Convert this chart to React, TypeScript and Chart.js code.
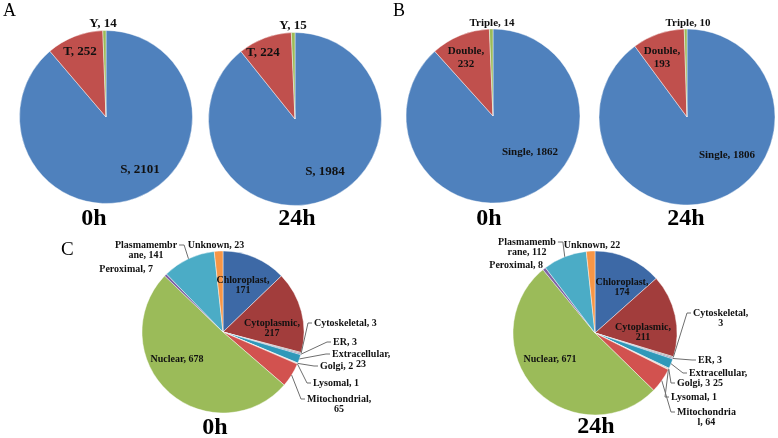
import React, { useEffect, useRef } from "react";
import { Chart, registerables } from "chart.js";

Chart.register(...registerables);

// ---------------- DATA ----------------
const aCategories = ["S", "T", "Y"];
const aValues0h = [2101, 252, 14];
const aValues24h = [1984, 224, 15];

const bCategories = ["Single", "Double", "Triple"];
const bValues0h = [1862, 232, 14];
const bValues24h = [1806, 193, 10];

const cCategories = [
  "Chloroplast",
  "Cytoplasmic",
  "Cytoskeletal",
  "ER",
  "Extracellular",
  "Golgi",
  "Lysomal",
  "Mitochondrial",
  "Nuclear",
  "Peroximal",
  "Plasmamembrane",
  "Unknown",
];
const cValues0h = [171, 217, 3, 3, 23, 2, 1, 65, 678, 7, 141, 23];
const cValues24h = [174, 211, 3, 3, 25, 3, 1, 64, 671, 8, 112, 22];

const timeLabels = ["0h", "24h"];
const panelLetters = ["A", "B", "C"];

// ---------------- STYLE / LAYOUT ----------------
const W = 778;
const H = 438;
const FONT = '"Liberation Serif", "Times New Roman", serif';

const abColors = ["#4f81bd", "#c0504d", "#9bbb59"];
const cColors = [
  "#3d69a6",
  "#a23d3c",
  "#8e8e8e",
  "#6d5a8e",
  "#2f98b9",
  "#c0c0c0",
  "#d99b63",
  "#d2524f",
  "#9bbb59",
  "#8064a2",
  "#4bacc6",
  "#f79646",
];

type LabelStyle = {
  dx: number;
  dy: number;
  align: "center" | "left" | "right";
  brk?: number | "comma";
  leader?: "left" | "right";
};

type PieSpec = {
  categories: string[];
  values: number[];
  colors: string[];
  cx: number;
  cy: number;
  r: number;
  fontSize: number;
  lineHeight: number;
  labels: LabelStyle[];
  title: string;
  titleX: number;
  titleY: number;
  letter?: { text: string; x: number; y: number; size: number };
};

const pies: PieSpec[] = [
  {
    categories: aCategories,
    values: aValues0h,
    colors: abColors,
    cx: 106,
    cy: 117,
    r: 86.5,
    fontSize: 13,
    lineHeight: 13,
    labels: [
      { dx: 34, dy: 53, align: "center" },
      { dx: -26, dy: -65, align: "center" },
      { dx: -3, dy: -93, align: "center" },
    ],
    title: timeLabels[0],
    titleX: 94,
    titleY: 225,
    letter: { text: panelLetters[0], x: 3, y: 16, size: 18 },
  },
  {
    categories: aCategories,
    values: aValues24h,
    colors: abColors,
    cx: 295,
    cy: 119,
    r: 86.5,
    fontSize: 13,
    lineHeight: 13,
    labels: [
      { dx: 30, dy: 53, align: "center" },
      { dx: -32, dy: -66, align: "center" },
      { dx: -2, dy: -93, align: "center" },
    ],
    title: timeLabels[1],
    titleX: 297,
    titleY: 225,
  },
  {
    categories: bCategories,
    values: bValues0h,
    colors: abColors,
    cx: 493,
    cy: 116,
    r: 87,
    fontSize: 11,
    lineHeight: 13,
    labels: [
      { dx: 37, dy: 36, align: "center" },
      { dx: -27, dy: -65, align: "center", brk: "comma" },
      { dx: -1, dy: -93, align: "center" },
    ],
    title: timeLabels[0],
    titleX: 489,
    titleY: 225,
    letter: { text: panelLetters[1], x: 393, y: 16, size: 18 },
  },
  {
    categories: bCategories,
    values: bValues24h,
    colors: abColors,
    cx: 687,
    cy: 117,
    r: 88,
    fontSize: 11,
    lineHeight: 13,
    labels: [
      { dx: 40, dy: 38, align: "center" },
      { dx: -25, dy: -66, align: "center", brk: "comma" },
      { dx: 1, dy: -94, align: "center" },
    ],
    title: timeLabels[1],
    titleX: 686,
    titleY: 225,
  },
  {
    categories: cCategories,
    values: cValues0h,
    colors: cColors,
    cx: 223,
    cy: 332,
    r: 81,
    fontSize: 10,
    lineHeight: 10.5,
    labels: [
      { dx: 20, dy: -52, align: "center", brk: "comma" },
      { dx: 49, dy: -9, align: "center", brk: "comma" },
      { dx: 91, dy: -9, align: "left", leader: "left" },
      { dx: 110, dy: 10, align: "left", leader: "left" },
      { dx: 109, dy: 22, align: "left", brk: "comma", leader: "left" },
      { dx: 97, dy: 34, align: "left", leader: "left" },
      { dx: 90, dy: 51, align: "left", leader: "left" },
      { dx: 84, dy: 67, align: "left", brk: "comma", leader: "left" },
      { dx: -46, dy: 27, align: "center" },
      { dx: -70, dy: -63, align: "right" },
      { dx: -77, dy: -87, align: "center", brk: 11, leader: "right" },
      { dx: -7, dy: -87, align: "center" },
    ],
    title: timeLabels[0],
    titleX: 215,
    titleY: 434,
    letter: { text: panelLetters[2], x: 61, y: 255, size: 19 },
  },
  {
    categories: cCategories,
    values: cValues24h,
    colors: cColors,
    cx: 595,
    cy: 333,
    r: 82,
    fontSize: 10,
    lineHeight: 10.5,
    labels: [
      { dx: 27, dy: -51, align: "center", brk: "comma" },
      { dx: 48, dy: -6, align: "center", brk: "comma" },
      { dx: 98, dy: -20, align: "left", brk: "comma", leader: "left" },
      { dx: 103, dy: 27, align: "left", leader: "left" },
      { dx: 94, dy: 40, align: "left", brk: "comma", leader: "left" },
      { dx: 82, dy: 50, align: "left", leader: "left" },
      { dx: 76, dy: 64, align: "left", leader: "left" },
      { dx: 82, dy: 79, align: "left", brk: 12, leader: "left" },
      { dx: -45, dy: 26, align: "center" },
      { dx: -52, dy: -68, align: "right" },
      { dx: -68, dy: -91, align: "center", brk: 10, leader: "right" },
      { dx: -3, dy: -88, align: "center" },
    ],
    title: timeLabels[1],
    titleX: 596,
    titleY: 433,
  },
];

function splitText(text: string, brk?: number | "comma"): string[] {
  if (brk === undefined) return [text];
  if (brk === "comma") {
    const i = text.indexOf(", ");
    return [text.slice(0, i + 1), text.slice(i + 2)];
  }
  return [text.slice(0, brk), text.slice(brk)];
}

function makePlugin(spec: PieSpec) {
  return {
    id: "pieLabels",
    afterDraw(chart: any) {
      const ctx: CanvasRenderingContext2D = chart.ctx;
      const meta = chart.getDatasetMeta(0);
      ctx.save();
      ctx.fillStyle = "#111";
      ctx.textBaseline = "middle";
      ctx.font = `bold ${spec.fontSize}px ${FONT}`;
      meta.data.forEach((arc: any, i: number) => {
        const st = spec.labels[i];
        if (!st) return;
        const p = arc.getProps(["x", "y", "startAngle", "endAngle", "outerRadius"], true);
        const text = `${spec.categories[i]}, ${spec.values[i]}`;
        const lines = splitText(text, st.brk);
        const widths = lines.map((l) => ctx.measureText(l).width);
        const bw = Math.max(...widths);
        const ax = p.x + st.dx;
        const ay = p.y + st.dy;
        let left = ax - bw / 2;
        if (st.align === "left") left = ax;
        if (st.align === "right") left = ax - bw;
        ctx.textAlign = "center";
        lines.forEach((ln, k) => {
          ctx.fillText(ln, left + bw / 2, ay + k * spec.lineHeight);
        });
        if (st.leader) {
          const mid = (p.startAngle + p.endAngle) / 2;
          const ex = p.x + Math.cos(mid) * p.outerRadius;
          const ey = p.y + Math.sin(mid) * p.outerRadius;
          ctx.strokeStyle = "#6e6e6e";
          ctx.lineWidth = 1;
          ctx.beginPath();
          if (st.leader === "left") {
            const lx = left + bw / 2 - widths[0] / 2;
            ctx.moveTo(ex, ey);
            ctx.lineTo(lx - 6, ay);
            ctx.lineTo(lx - 2, ay);
          } else {
            const rx = left + bw / 2 + widths[0] / 2;
            ctx.moveTo(ex, ey);
            ctx.lineTo(rx + 7, ay);
            ctx.lineTo(rx + 2, ay);
          }
          ctx.stroke();
        }
      });
      // title
      ctx.textAlign = "center";
      ctx.textBaseline = "alphabetic";
      ctx.font = `bold 24px ${FONT}`;
      ctx.fillStyle = "#000";
      ctx.fillText(spec.title, spec.titleX, spec.titleY);
      if (spec.letter) {
        ctx.textAlign = "left";
        ctx.font = `${spec.letter.size}px ${FONT}`;
        ctx.fillText(spec.letter.text, spec.letter.x, spec.letter.y);
      }
      ctx.restore();
    },
  };
}

function PieCanvas({ spec }: { spec: PieSpec }) {
  const ref = useRef<HTMLCanvasElement | null>(null);
  useEffect(() => {
    if (!ref.current) return;
    const padL = Math.max(0, 2 * spec.cx - W);
    const padR = Math.max(0, W - 2 * spec.cx);
    const padT = Math.max(0, 2 * spec.cy - H);
    const padB = Math.max(0, H - 2 * spec.cy);
    const chart = new Chart(ref.current, {
      type: "pie",
      data: {
        labels: spec.categories,
        datasets: [
          {
            data: spec.values,
            backgroundColor: spec.colors,
            borderColor: "rgba(255,255,255,0.55)",
            borderWidth: 0.8,
            hoverOffset: 0,
          },
        ],
      },
      options: {
        animation: false,
        responsive: false,
        devicePixelRatio: 1,
        radius: spec.r,
        layout: { padding: { left: padL, right: padR, top: padT, bottom: padB } },
        plugins: {
          legend: { display: false },
          tooltip: { enabled: false },
          title: { display: false },
        },
      } as any,
      plugins: [makePlugin(spec)],
    });
    return () => chart.destroy();
  }, [spec]);
  return (
    <canvas
      ref={ref}
      width={W}
      height={H}
      style={{ position: "absolute", left: 0, top: 0, width: W, height: H, pointerEvents: "none" }}
    />
  );
}

export default function App() {
  return (
    <div
      style={{
        position: "fixed",
        left: 0,
        top: 0,
        width: W,
        height: H,
        background: "#ffffff",
        overflow: "hidden",
      }}
    >
      {pies.map((p, i) => (
        <PieCanvas key={i} spec={p} />
      ))}
    </div>
  );
}
